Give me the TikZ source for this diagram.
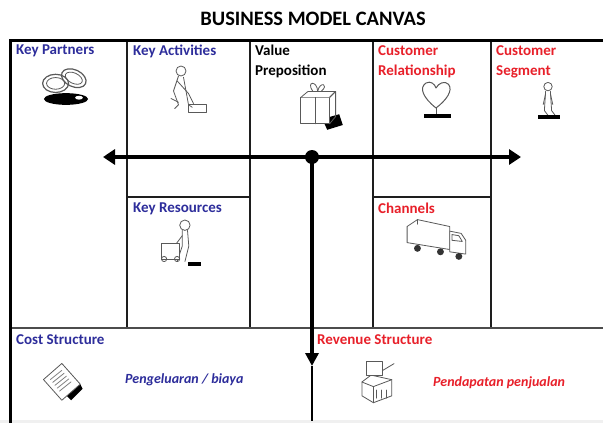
\documentclass[tikz,border=0pt]{standalone}
\usepackage{fontspec}
\setmainfont{Carlito}
\usetikzlibrary{arrows.meta}
\definecolor{bmcblue}{RGB}{45,45,155}
\definecolor{bmcred}{RGB}{232,32,42}
\definecolor{gridline}{RGB}{30,30,30}
\begin{document}
\begin{tikzpicture}[x=1pt,y=-1pt,
  grid/.style={draw=gridline,line width=1.8pt},
  frame/.style={draw=black,line width=3pt},
  axis/.style={draw=black,line width=3.6pt},
  lblue/.style={anchor=north west,inner sep=0pt,font=\fontsize{15}{20}\selectfont\bfseries,text=bmcblue,align=left},
  lred/.style={anchor=north west,inner sep=0pt,font=\fontsize{15}{20}\selectfont\bfseries,text=bmcred,align=left},
  lblack/.style={anchor=north west,inner sep=0pt,font=\fontsize{15}{20}\selectfont\bfseries,text=black,align=left},
  note/.style={anchor=west,inner sep=0pt,font=\fontsize{14}{16}\selectfont\bfseries\itshape},
  icon/.style={draw=gray!70!black,line width=0.8pt,line join=round,line cap=round},
  zoomat/.style n args={3}{shift={(#1,#2)},scale=#3,shift={(-#1,-#2)}},
  shade/.style={fill=black}]
\useasboundingbox (0,0) rectangle (603,423);
\fill[white] (0,0) rectangle (603,423);
\fill[gray!12] (0,420) rectangle (603,423);

% title
\node (title) at (313,19) {\fontsize{20.5}{24}\selectfont\bfseries BUSINESS MODEL CANVAS};

% grid of the canvas
\draw[grid] (127,41) -- (127,328);
\draw[grid] (250,41) -- (250,328);
\draw[grid] (373,41) -- (373,328);
\draw[grid] (491,41) -- (491,328);
\draw[grid] (127,197) -- (250,197);
\draw[grid] (373,197) -- (491,197);
\draw[draw=gray!60!black,line width=2.6pt] (10,328) -- (603,328);
\draw[frame] (10,423) -- (10,40.5) -- (603,40.5);

% block titles
\node[lblue] (kp) at (16,45) {Key Partners};
\node[lblue] (ka) at (133,45) {Key Activities};
\node[lblack] (vp) at (255,45) {Value\\Preposition};
\node[lred] (cr) at (378,45) {Customer\\Relationship};
\node[lred] (cs) at (496,45) {Customer\\Segment};
\node[lblue] (kr) at (133,203) {Key Resources};
\node[lred] (ch) at (378,203) {Channels};
\node[lblue] (cost) at (16,334) {Cost Structure};
\node[lred] (rev) at (317,334) {Revenue Structure};
\node[note,text=bmcblue] (costnote) at (125,380) {Pengeluaran / biaya};
\node[note,text=bmcred] (revnote) at (433,383) {Pendapatan penjualan};

% axes
\coordinate (hub) at (312,157);
\coordinate (westend) at (103,157);
\coordinate (eastend) at (521,157);
\coordinate (southhead) at (312,366);
\coordinate (southend) at (312,421);
\draw[axis,-{Triangle[length=12pt,width=15pt]}] (hub) -- (westend);
\draw[axis,-{Triangle[length=12pt,width=15pt]}] (hub) -- (eastend);
\draw[axis,-{Triangle[length=13pt,width=13pt]}] (hub) -- (southhead);
\draw[black,line width=1.8pt] (southhead) -- (southend);
\fill[black] (hub) circle (7);

% icon: interlocked rings
\begin{scope}[zoomat={66}{86}{1.3}]
\fill[shade] (66,96) ellipse (17 and 4.5);
\fill[white] (76,95) ellipse (3 and 1.5);
\draw[icon,line width=1.2pt] (58,84) ellipse (10 and 7);
\draw[icon,line width=1.2pt,rotate around={-25:(72,80)}] (72,80) ellipse (10 and 6.5);
\draw[icon] (58,84) ellipse (7 and 4.5);
\draw[icon,rotate around={-25:(72,80)}] (72,80) ellipse (7 and 4);
\end{scope}

% icon: worker with vacuum
\begin{scope}[yshift=-5pt,zoomat={186}{86}{1.25}]
\draw[icon] (182,70) circle (4);
\draw[icon] (180,74) -- (176,86) -- (180,97) -- (177,100);
\draw[icon] (184,75) -- (186,86) -- (188,97) -- (191,99);
\draw[icon] (179,78) -- (188,88) -- (192,96);
\draw[icon] (188,97) rectangle (202,103);
\draw[icon] (174,92) -- (180,95);
\end{scope}

% icon: gift box
\begin{scope}[yshift=-9pt,zoomat={320}{98}{1.2}]
\fill[shade] (322,108) -- (336,104) -- (339,113) -- (326,117) -- cycle;
\draw[icon,fill=white] (304,90) rectangle (328,112);
\draw[icon,fill=white] (304,90) -- (310,85) -- (333,85) -- (328,90);
\draw[icon] (328,90) -- (333,85) -- (333,106) -- (328,112);
\draw[icon] (316,90) -- (316,112);
\draw[icon] (314,85) .. controls (308,76) and (318,76) .. (318,85);
\draw[icon] (318,85) .. controls (320,76) and (328,79) .. (321,85);
\end{scope}

% icon: heart on a stand
\begin{scope}[zoomat={436}{98}{1.25}]
\draw[icon,line width=1pt] (436,106) .. controls (426,98) and (422,90) .. (428,86)
  .. controls (432,84) and (435,87) .. (436,90)
  .. controls (438,86) and (443,84) .. (446,87)
  .. controls (450,92) and (444,100) .. (436,106);
\draw[icon] (436,106) -- (436,112);
\fill[shade] (426,111) rectangle (448,114);
\end{scope}

% icon: standing figure
\begin{scope}[yshift=-5pt,zoomat={548}{96}{1.2}]
\draw[icon] (548,84) circle (3.5);
\draw[icon] (546,88) -- (545,104) -- (548,108);
\draw[icon] (550,88) -- (551,104) -- (554,108);
\draw[icon] (546,90) -- (544,99);
\draw[icon] (550,90) -- (552,99);
\fill[shade] (540,108) rectangle (558,111);
\end{scope}

% icon: worker pushing a cart
\begin{scope}[yshift=-6pt,zoomat={181}{240}{1.3}]
\draw[icon] (184,224) circle (4);
\draw[icon] (182,228) -- (182,240) -- (178,252);
\draw[icon] (186,228) -- (187,240) -- (184,252);
\draw[icon] (182,232) -- (176,240);
\draw[icon,fill=white] (166,238) rectangle (180,250);
\draw[icon] (168,250) circle (2) (178,250) circle (2);
\fill[shade] (186,252) rectangle (196,255);
\end{scope}

% icon: delivery truck
\begin{scope}[zoomat={437}{238}{1.15}]
\draw[icon,fill=white] (411,228) -- (420,222) -- (448,228) -- (448,248) -- (411,242) -- cycle;
\draw[icon] (420,222) -- (420,226);
\draw[icon,fill=white] (448,232) -- (458,234) -- (462,240) -- (462,252) -- (448,250) -- cycle;
\draw[icon] (450,235) -- (456,236) -- (459,241) -- (450,240) -- cycle;
\fill[black!80] (420,247) circle (3) (440,250) circle (3) (456,254) circle (3);
\end{scope}

% icon: paper document
\begin{scope}[zoomat={63}{383}{1.15}]
\fill[shade] (66,394) -- (78,384) -- (80,388) -- (70,398) -- cycle;
\draw[icon,fill=white] (46,380) -- (62,366) -- (78,384) -- (62,398) -- cycle;
\foreach \k in {0,1,2,3,4}
  \draw[icon,draw=gray] (52+2*\k,380+2.5*\k) -- (62+2*\k,372+2.5*\k);
\end{scope}

% icon: cash register
\begin{scope}[zoomat={378}{382}{1.15}]
\draw[icon,fill=white] (364,382) -- (372,376) -- (390,380) -- (390,394) -- (374,400) -- (364,394) -- cycle;
\draw[icon] (364,382) -- (374,386) -- (390,380);
\draw[icon] (374,386) -- (374,400);
\draw[icon,fill=white] (368,364) rectangle (382,376);
\draw[icon] (382,372) -- (392,366);
\foreach \k in {0,1,2}
  \draw[icon] (377+4*\k,389) -- (377+4*\k,396);
\end{scope}
\end{tikzpicture}
\end{document}
